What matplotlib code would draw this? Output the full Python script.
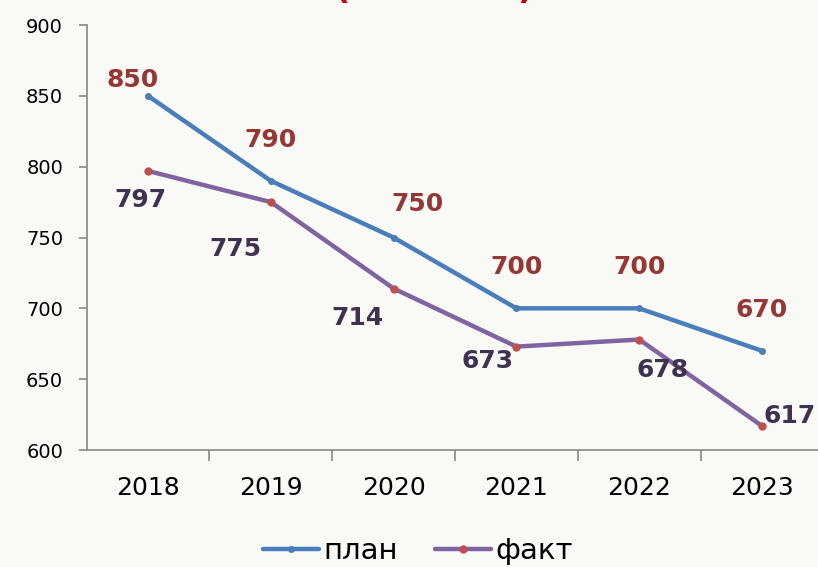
import matplotlib.pyplot as plt
import numpy as np

years = ['2018', '2019', '2020', '2021', '2022', '2023']
plan = [850, 790, 750, 700, 700, 670]
fakt = [797, 775, 714, 673, 678, 617]

# label offsets in pixels (dx, dy), as placed on the original chart
plan_off = [(-15, 16), (0, 41), (24, 34), (0, 41), (0, 41), (0, 41)]
fakt_off = [(-8, -29), (-35, -47), (-36, -29), (-29, -14), (23, -30), (28, 10)]

bg = '#F9F9F5'
c_plan = '#4A7EBB'
c_fakt = '#8064A2'
c_dot = '#C0504D'

fig = plt.figure(figsize=(8.18, 5.67), dpi=100, facecolor=bg)
ax = fig.add_axes([0.1059, 0.2063, 0.9007, 0.7496], facecolor=bg)

x = np.arange(len(years))
ax.plot(x, plan, color=c_plan, lw=3.2, marker='o', ms=4, mfc=c_plan, mec=c_plan,
        label='план', solid_capstyle='round', clip_on=False, zorder=3)
ax.plot(x, fakt, color=c_fakt, lw=3.2, marker='o', ms=5, mfc=c_dot, mec=c_dot,
        label='факт', solid_capstyle='round', clip_on=False, zorder=3)

for xi, v, (dx, dy) in zip(x, plan, plan_off):
    ax.annotate(str(v), (xi, v), xytext=(dx, dy), textcoords='offset pixels',
                ha='center', va='center', fontsize=18, fontweight='bold', color='#953735')
for xi, v, (dx, dy) in zip(x, fakt, fakt_off):
    ax.annotate(str(v), (xi, v), xytext=(dx, dy), textcoords='offset pixels',
                ha='center', va='center', fontsize=18, fontweight='bold', color='#3F3151')

ax.set_xlim(-0.5, len(years) - 0.5)
ax.set_ylim(600, 900)
ax.set_yticks(np.arange(600, 901, 50))
ax.set_xticks(x)
ax.set_xticklabels(years)
ax.set_xticks(np.arange(0.5, len(years) - 0.5, 1), minor=True)
ax.tick_params(axis='x', which='major', length=0, pad=19, labelsize=18)
ax.tick_params(axis='x', which='minor', length=8, width=1.2, color='#888888')
ax.tick_params(axis='y', length=6, width=1.2, color='#888888', labelsize=14, pad=11)

for s in ['top', 'right']:
    ax.spines[s].set_visible(False)
for s in ['left', 'bottom']:
    ax.spines[s].set_color('#888888')
    ax.spines[s].set_linewidth(1.2)

fig.legend(loc='lower center', bbox_to_anchor=(0.511, -0.043), ncol=2, frameon=False,
           fontsize=21, handlelength=1.9, handletextpad=0.15, columnspacing=1.3)

# cut-off title, only the bottom of the brackets shows
fig.text(342 / 818, 1 + 1 / 567, '(', color='#C00000', fontsize=24, fontweight='bold',
         ha='center', va='baseline')
fig.text(525 / 818, 1 + 1 / 567, ')', color='#C00000', fontsize=24, fontweight='bold',
         ha='center', va='baseline')

fig.savefig('out.png', dpi=100, facecolor=bg)
